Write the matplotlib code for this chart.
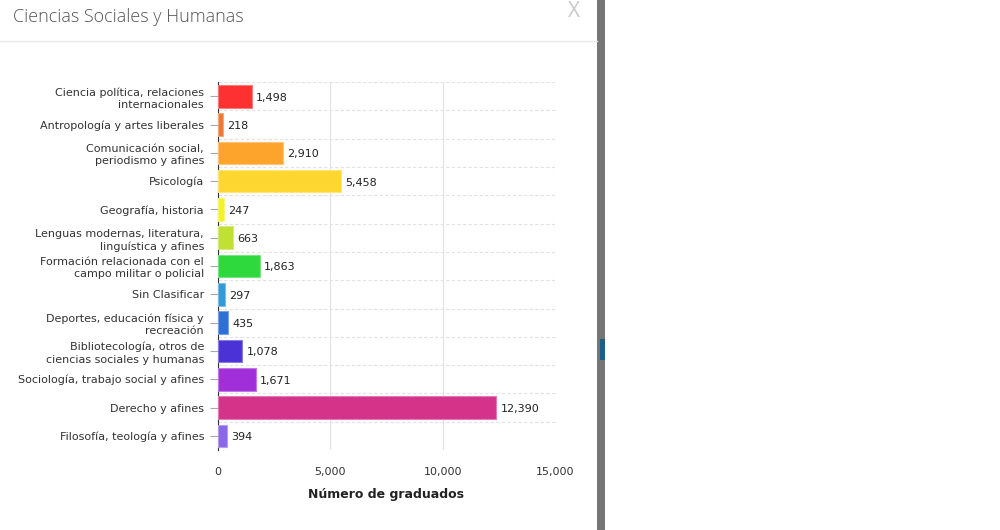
import matplotlib
matplotlib.use("Agg")
import matplotlib.pyplot as plt
import matplotlib.patches as patches
from matplotlib.colors import to_rgb
from matplotlib.ticker import FuncFormatter

# Data (top to bottom as shown in the chart)
categories = [
    "Ciencia política, relaciones\ninternacionales",
    "Antropología y artes liberales",
    "Comunicación social,\nperiodismo y afines",
    "Psicología",
    "Geografía, historia",
    "Lenguas modernas, literatura,\nlinguística y afines",
    "Formación relacionada con el\ncampo militar o policial",
    "Sin Clasificar",
    "Deportes, educación física y\nrecreación",
    "Bibliotecología, otros de\nciencias sociales y humanas",
    "Sociología, trabajo social y afines",
    "Derecho y afines",
    "Filosofía, teología y afines",
]
graduados = [1498, 218, 2910, 5458, 247, 663, 1863, 297, 435, 1078, 1671, 12390, 394]
bar_colors = ["#fd3131", "#ec7a34", "#fca42c", "#fdd72f", "#f3f324", "#c0e032", "#2dd93d",
              "#3599d6", "#2f6ed6", "#4a32d6", "#a02fd9", "#d5328a", "#8a68e4"]
x_ticks = [0, 5000, 10000, 15000]

title = "Ciencias Sociales y Humanas"
x_label = "Número de graduados"


def lighter(c, amount=0.35):
    r, g, b = to_rgb(c)
    return (r + (1 - r) * amount, g + (1 - g) * amount, b + (1 - b) * amount)


fig = plt.figure(figsize=(10, 5.3), dpi=100)
fig.patch.set_facecolor("white")

# modal header
fig.text(0.013, 0.967, title, fontsize=13, color="#555555", family="Open Sans",
         fontweight="light", ha="left", va="center")
fig.text(0.574, 0.979, "X", fontsize=15, color="#c8c8c8", family="Open Sans",
         ha="center", va="center")
fig.add_artist(plt.Line2D([0, 0.597], [0.922, 0.922], color="#e6e6e6", lw=1))

# grey page divider on the right
fig.add_artist(patches.Rectangle((0.597, 0), 0.008, 1, color="#767676", lw=0))
fig.add_artist(patches.Rectangle((0.600, 0.32), 0.005, 0.04, color="#1e5f85", lw=0))

ax = fig.add_axes([0.218, 0.151, 0.337, 0.694])
n = len(categories)
ypos = list(range(n))
ax.barh(ypos, graduados, height=0.8, color=bar_colors,
        edgecolor=[lighter(c) for c in bar_colors], linewidth=0.8, zorder=3)

for y, v in zip(ypos, graduados):
    ax.annotate(f"{v:,}", (v, y), xytext=(3, -1), textcoords="offset points",
                ha="left", va="center", fontsize=8, color="#222222", zorder=4)

ax.set_ylim(n - 0.5, -0.5)
ax.set_xlim(0, 15000)
ax.set_yticks(ypos)
ax.set_yticklabels(categories, fontsize=8, color="#333333", linespacing=1.3)
ax.set_xticks(x_ticks)
ax.xaxis.set_major_formatter(FuncFormatter(lambda v, p: f"{int(v):,}"))
ax.tick_params(axis="x", length=0, pad=12, labelsize=8, labelcolor="#333333")
ax.tick_params(axis="y", length=6, width=0.8, color="#aaaaaa", pad=4)
ax.set_xlabel(x_label, fontsize=9, fontweight="bold", color="#222222", labelpad=8)

# grid: dashed horizontal between rows, solid vertical at ticks
for b in range(n + 1):
    ax.axhline(b - 0.5, color="#e2e2e2", lw=0.8, ls=(0, (3, 2)), zorder=1)
for t in x_ticks[1:]:
    ax.axvline(t, color="#e2e2e2", lw=0.8, zorder=1)

for s in ["top", "right", "bottom"]:
    ax.spines[s].set_visible(False)
ax.spines["left"].set_color("#333333")
ax.spines["left"].set_linewidth(0.8)

fig.savefig("out.png", dpi=100)
